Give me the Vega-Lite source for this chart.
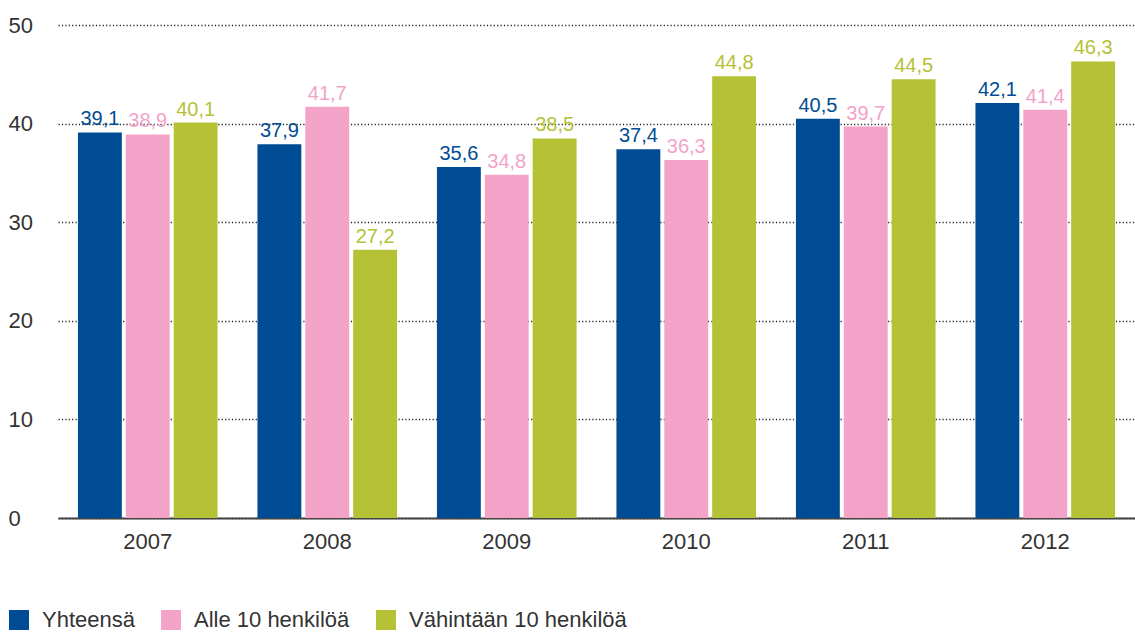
{
  "$schema": "https://vega.github.io/schema/vega-lite/v6.json",
  "autosize": "none",
  "width": 1077,
  "height": 493,
  "padding": {"left": 58, "top": 25, "right": 0, "bottom": 115},
  "background": "white",
  "config": {
    "view": {"stroke": null},
    "font": "Liberation Sans",
    "axis": {"labelFont": "Liberation Sans", "labelColor": "#333333"},
    "legend": {"labelFont": "Liberation Sans"}
  },
  "data": {
    "values": [
      {"year": "2007", "series": "Yhteensä", "value": 39.1, "label": "39,1"},
      {"year": "2007", "series": "Alle 10 henkilöä", "value": 38.9, "label": "38,9"},
      {"year": "2007", "series": "Vähintään 10 henkilöä", "value": 40.1, "label": "40,1"},
      {"year": "2008", "series": "Yhteensä", "value": 37.9, "label": "37,9"},
      {"year": "2008", "series": "Alle 10 henkilöä", "value": 41.7, "label": "41,7"},
      {"year": "2008", "series": "Vähintään 10 henkilöä", "value": 27.2, "label": "27,2"},
      {"year": "2009", "series": "Yhteensä", "value": 35.6, "label": "35,6"},
      {"year": "2009", "series": "Alle 10 henkilöä", "value": 34.8, "label": "34,8"},
      {"year": "2009", "series": "Vähintään 10 henkilöä", "value": 38.5, "label": "38,5"},
      {"year": "2010", "series": "Yhteensä", "value": 37.4, "label": "37,4"},
      {"year": "2010", "series": "Alle 10 henkilöä", "value": 36.3, "label": "36,3"},
      {"year": "2010", "series": "Vähintään 10 henkilöä", "value": 44.8, "label": "44,8"},
      {"year": "2011", "series": "Yhteensä", "value": 40.5, "label": "40,5"},
      {"year": "2011", "series": "Alle 10 henkilöä", "value": 39.7, "label": "39,7"},
      {"year": "2011", "series": "Vähintään 10 henkilöä", "value": 44.5, "label": "44,5"},
      {"year": "2012", "series": "Yhteensä", "value": 42.1, "label": "42,1"},
      {"year": "2012", "series": "Alle 10 henkilöä", "value": 41.4, "label": "41,4"},
      {"year": "2012", "series": "Vähintään 10 henkilöä", "value": 46.3, "label": "46,3"}
    ]
  },
  "encoding": {
    "x": {
      "field": "year",
      "type": "nominal",
      "scale": {"paddingInner": 0.2222, "paddingOuter": 0.1111},
      "axis": {
        "title": null,
        "labelAngle": 0,
        "labelFontSize": 22,
        "labelPadding": 13,
        "ticks": false,
        "domain": true,
        "domainColor": "#444444",
        "domainWidth": 2,
        "grid": false
      }
    },
    "xOffset": {
      "field": "series",
      "type": "nominal",
      "sort": ["Yhteensä", "Alle 10 henkilöä", "Vähintään 10 henkilöä"],
      "scale": {"paddingInner": 0.0833, "paddingOuter": 0}
    },
    "y": {
      "field": "value",
      "type": "quantitative",
      "scale": {"domain": [0, 50], "nice": false},
      "axis": {
        "title": null,
        "values": [0, 10, 20, 30, 40, 50],
        "domain": false,
        "ticks": false,
        "tickSize": 0,
        "labelAlign": "left",
        "labelPadding": 50,
        "labelFontSize": 22,
        "grid": true,
        "gridColor": "#222222",
        "gridDash": [1.2, 2.2],
        "gridWidth": 1.3
      }
    },
    "color": {
      "field": "series",
      "type": "nominal",
      "sort": ["Yhteensä", "Alle 10 henkilöä", "Vähintään 10 henkilöä"],
      "scale": {
        "domain": ["Yhteensä", "Alle 10 henkilöä", "Vähintään 10 henkilöä"],
        "range": ["#004C94", "#F3A3C8", "#B5C235"]
      },
      "legend": {
        "title": null,
        "orient": "none",
        "direction": "horizontal",
        "legendX": -50,
        "legendY": 584,
        "padding": 0,
        "symbolType": "square",
        "symbolSize": 400,
        "symbolStrokeWidth": 0,
        "symbolOpacity": 1,
        "labelFontSize": 22,
        "labelColor": "#333333",
        "labelOffset": 12,
        "columnPadding": 25,
        "labelLimit": 400
      }
    }
  },
  "layer": [
    {"mark": {"type": "bar", "opacity": 1}},
    {
      "mark": {"type": "text", "baseline": "alphabetic", "dy": -7, "fontSize": 20},
      "encoding": {"text": {"field": "label"}}
    }
  ]
}
